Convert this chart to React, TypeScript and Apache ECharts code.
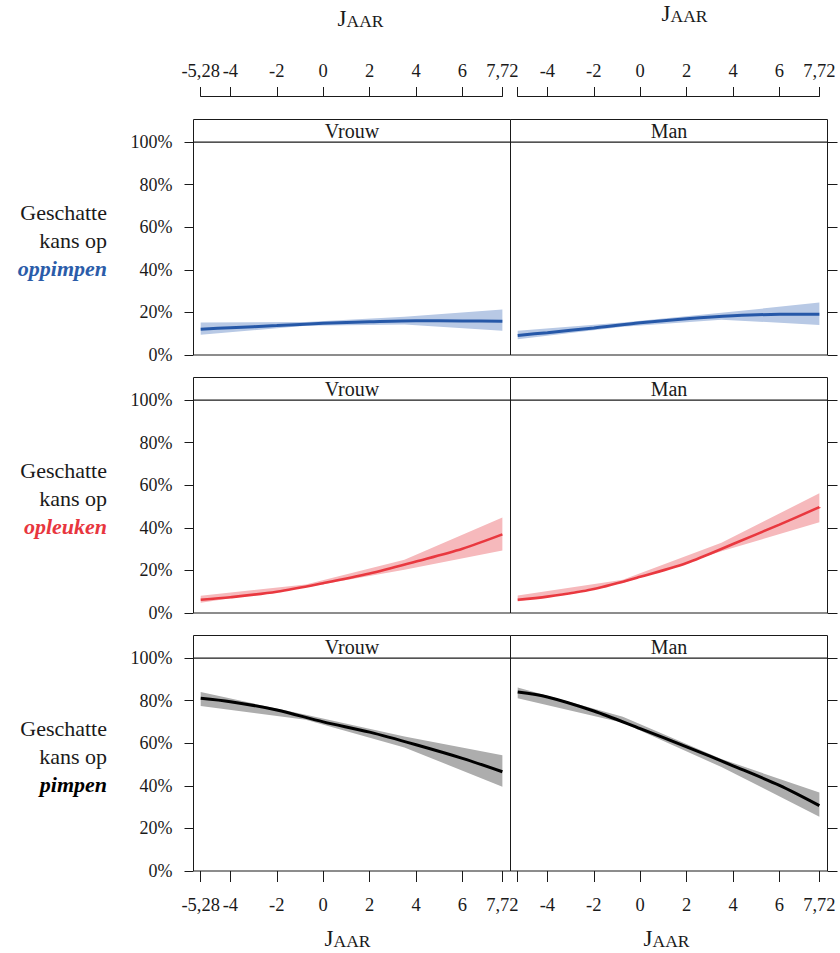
import React, { useEffect, useRef } from "react";
import * as echarts from "echarts";

// ---------- data ----------
const xTicks = [-5.28, -4, -2, 0, 2, 4, 6, 7.72];
const xTicksRight = [-4, -2, 0, 2, 4, 6, 7.72];
const sexes = ["Vrouw", "Man"];
const variants = ["oppimpen", "opleuken", "pimpen"];

const fitX = [-5.28, -4, -2, 0, 2, 4, 6, 7.72];
const bandX = [-5.28, -0.75, 3.5, 7.72];

const oppimpenVrouwFit = [0.121, 0.128, 0.138, 0.149, 0.156, 0.161, 0.16, 0.158];
const oppimpenVrouwLow = [0.095, 0.137, 0.143, 0.114];
const oppimpenVrouwHigh = [0.153, 0.155, 0.18, 0.214];
const oppimpenManFit = [0.092, 0.105, 0.127, 0.151, 0.17, 0.184, 0.191, 0.191];
const oppimpenManLow = [0.074, 0.133, 0.166, 0.141];
const oppimpenManHigh = [0.114, 0.153, 0.198, 0.246];

const opleukenVrouwFit = [0.062, 0.074, 0.1, 0.14, 0.185, 0.242, 0.302, 0.369];
const opleukenVrouwLow = [0.048, 0.121, 0.203, 0.293];
const opleukenVrouwHigh = [0.081, 0.134, 0.25, 0.448];
const opleukenManFit = [0.062, 0.077, 0.113, 0.17, 0.235, 0.324, 0.415, 0.497];
const opleukenManLow = [0.054, 0.141, 0.29, 0.426];
const opleukenManHigh = [0.082, 0.156, 0.33, 0.562];

const pimpenVrouwFit = [0.811, 0.795, 0.756, 0.7, 0.652, 0.593, 0.529, 0.466];
const pimpenVrouwLow = [0.775, 0.71, 0.58, 0.396];
const pimpenVrouwHigh = [0.84, 0.733, 0.632, 0.543];
const pimpenManFit = [0.84, 0.817, 0.751, 0.668, 0.583, 0.494, 0.402, 0.307];
const pimpenManLow = [0.811, 0.696, 0.488, 0.255];
const pimpenManHigh = [0.862, 0.724, 0.526, 0.368];

const fits = [
  [oppimpenVrouwFit, oppimpenManFit],
  [opleukenVrouwFit, opleukenManFit],
  [pimpenVrouwFit, pimpenManFit],
];
const lows = [
  [oppimpenVrouwLow, oppimpenManLow],
  [opleukenVrouwLow, opleukenManLow],
  [pimpenVrouwLow, pimpenManLow],
];
const highs = [
  [oppimpenVrouwHigh, oppimpenManHigh],
  [opleukenVrouwHigh, opleukenManHigh],
  [pimpenVrouwHigh, pimpenManHigh],
];

// ---------- styling / layout ----------
const FONT = '"Liberation Serif", "Times New Roman", serif';
const INK = "#1a1a1a";
const lineColors = ["#2658a8", "#e9383f", "#000000"];
const bandColors = ["#b8c9e5", "#f6b9bc", "#adadad"];
const labelColors = ["#2b5ca9", "#e8363e", "#000000"];
const lineWidths = [3, 2.6, 3];

const colLeft = [193.5, 510.5];
const panelW = 317;
const rowTop = [142, 400, 658];
const panelH = 213;
const stripH = 22.5;
const xMin = -5.59;
const xMax = 8.07;
const scale = panelW / (xMax - xMin);

const fmtX = (v: number) => String(Math.round(v * 100) / 100).replace(".", ",");
const fmtY = (v: number) => Math.round(v * 100) + "%";

function buildOption() {
  const grid: any[] = [];
  const xAxis: any[] = [];
  const yAxis: any[] = [];
  const series: any[] = [];
  const graphic: any[] = [];

  for (let r = 0; r < 3; r++) {
    for (let c = 0; c < 2; c++) {
      const k = r * 2 + c;
      grid.push({
        left: colLeft[c],
        top: rowTop[r],
        width: panelW,
        height: panelH,
        show: true,
        borderColor: INK,
        borderWidth: 1,
        backgroundColor: "rgba(0,0,0,0)",
      });
      const bottomRow = r === 2;
      xAxis.push({
        gridIndex: k,
        type: "value",
        min: xMin,
        max: xMax,
        show: bottomRow,
        position: "bottom",
        axisLine: { show: false, onZero: false },
        splitLine: { show: false },
        axisTick: { show: true, customValues: xTicks, length: 11, lineStyle: { color: INK } },
        axisLabel: {
          customValues: c === 0 ? xTicks : xTicksRight,
          formatter: fmtX,
          margin: 24,
          fontSize: 18.5,
          fontFamily: FONT,
          color: INK,
        },
      });
      yAxis.push({
        gridIndex: k,
        type: "value",
        min: 0,
        max: 1,
        interval: 0.2,
        position: c === 0 ? "left" : "right",
        axisLine: { show: false, onZero: false },
        splitLine: { show: false },
        axisTick: { show: true, length: c === 0 ? 9 : 10, lineStyle: { color: INK } },
        axisLabel: {
          show: c === 0,
          formatter: fmtY,
          margin: 21,
          fontSize: 18,
          fontFamily: FONT,
          color: INK,
        },
      });
      const lo = lows[r][c];
      const hi = highs[r][c];
      const bandColor = bandColors[r];
      series.push({
        type: "custom",
        coordinateSystem: "cartesian2d",
        xAxisIndex: k,
        yAxisIndex: k,
        data: bandX.map((x, j) => [x, lo[j], hi[j]]),
        encode: { x: 0, y: [1, 2] },
        silent: true,
        z: 1,
        renderItem: (params: any, api: any) => {
          if (params.dataIndex !== 0) return null;
          const pts: number[][] = [];
          for (let j = 0; j < bandX.length; j++) pts.push(api.coord([bandX[j], hi[j]]));
          for (let j = bandX.length - 1; j >= 0; j--) pts.push(api.coord([bandX[j], lo[j]]));
          return { type: "polygon", shape: { points: pts }, style: { fill: bandColor } };
        },
      });
      series.push({
        type: "line",
        xAxisIndex: k,
        yAxisIndex: k,
        data: fitX.map((x, j) => [x, fits[r][c][j]]),
        symbol: "none",
        smooth: 0.3,
        lineStyle: { color: lineColors[r], width: lineWidths[r] },
        silent: true,
        z: 3,
      });

      // strip
      graphic.push({
        type: "rect",
        shape: { x: colLeft[c], y: rowTop[r] - stripH, width: panelW, height: stripH },
        style: { fill: "#ffffff", stroke: INK, lineWidth: 1 },
        z: 10,
      });
      graphic.push({
        type: "text",
        x: colLeft[c] + panelW / 2,
        y: rowTop[r] - stripH / 2 + 0.5,
        style: {
          text: sexes[c],
          fontSize: 20,
          fontFamily: FONT,
          fill: INK,
          textAlign: "center",
          textVerticalAlign: "middle",
        },
        z: 11,
      });
    }
  }

  // top axes (bracket style)
  for (let c = 0; c < 2; c++) {
    const k = 6 + c;
    grid.push({
      left: colLeft[c] + (xTicks[0] - xMin) * scale,
      top: 96.5,
      width: (xTicks[xTicks.length - 1] - xTicks[0]) * scale,
      height: 1,
      show: false,
    });
    xAxis.push({
      gridIndex: k,
      type: "value",
      min: xTicks[0],
      max: xTicks[xTicks.length - 1],
      position: "top",
      axisLine: { show: true, onZero: false, lineStyle: { color: INK } },
      splitLine: { show: false },
      axisTick: { show: true, customValues: xTicks, length: 9.5, lineStyle: { color: INK } },
      axisLabel: {
        customValues: c === 0 ? xTicks : xTicksRight,
        formatter: fmtX,
        margin: 16,
        fontSize: 18.5,
        fontFamily: FONT,
        color: INK,
      },
    });
    yAxis.push({ gridIndex: k, type: "value", show: false, min: 0, max: 1 });
  }

  // row labels
  const rowLabelY = [212, 470, 728];
  for (let r = 0; r < 3; r++) {
    const base = rowLabelY[r];
    const common = { fontSize: 22, fontFamily: FONT, textAlign: "right", textVerticalAlign: "middle" };
    graphic.push({ type: "text", x: 107, y: base, style: { ...common, text: "Geschatte", fill: INK } });
    graphic.push({ type: "text", x: 107, y: base + 28.3, style: { ...common, text: "kans op", fill: INK } });
    graphic.push({
      type: "text",
      x: 107,
      y: base + 56.6,
      style: {
        ...common,
        text: variants[r],
        fill: labelColors[r],
        fontStyle: "italic",
        fontWeight: "bold",
      },
    });
  }

  // "Jaar" titles (small caps)
  const jaarPos = [
    [360.5, 18],
    [684.5, 13.5],
    [347.5, 938],
    [666.5, 938],
  ];
  jaarPos.forEach(([x, y]) => {
    graphic.push({
      type: "text",
      x,
      y,
      style: {
        text: "{a|J}{b|AAR}",
        textAlign: "center",
        textVerticalAlign: "middle",
        fill: INK,
        rich: {
          a: { fontSize: 23, fontFamily: FONT, fill: INK, color: INK, verticalAlign: "bottom" },
          b: { fontSize: 17.5, fontFamily: FONT, fill: INK, color: INK, verticalAlign: "bottom" },
        },
      },
    });
  });

  return {
    animation: false,
    backgroundColor: "#ffffff",
    grid,
    xAxis,
    yAxis,
    series,
    graphic: { elements: graphic },
  };
}

export default function App() {
  const ref = useRef<HTMLDivElement | null>(null);
  useEffect(() => {
    if (!ref.current) return;
    const chart = echarts.init(ref.current, undefined, { renderer: "svg" });
    chart.setOption(buildOption() as any);
    return () => chart.dispose();
  }, []);
  return (
    <div
      ref={ref}
      style={{ position: "absolute", left: 0, top: 0, width: 840, height: 953, background: "#fff" }}
    />
  );
}
